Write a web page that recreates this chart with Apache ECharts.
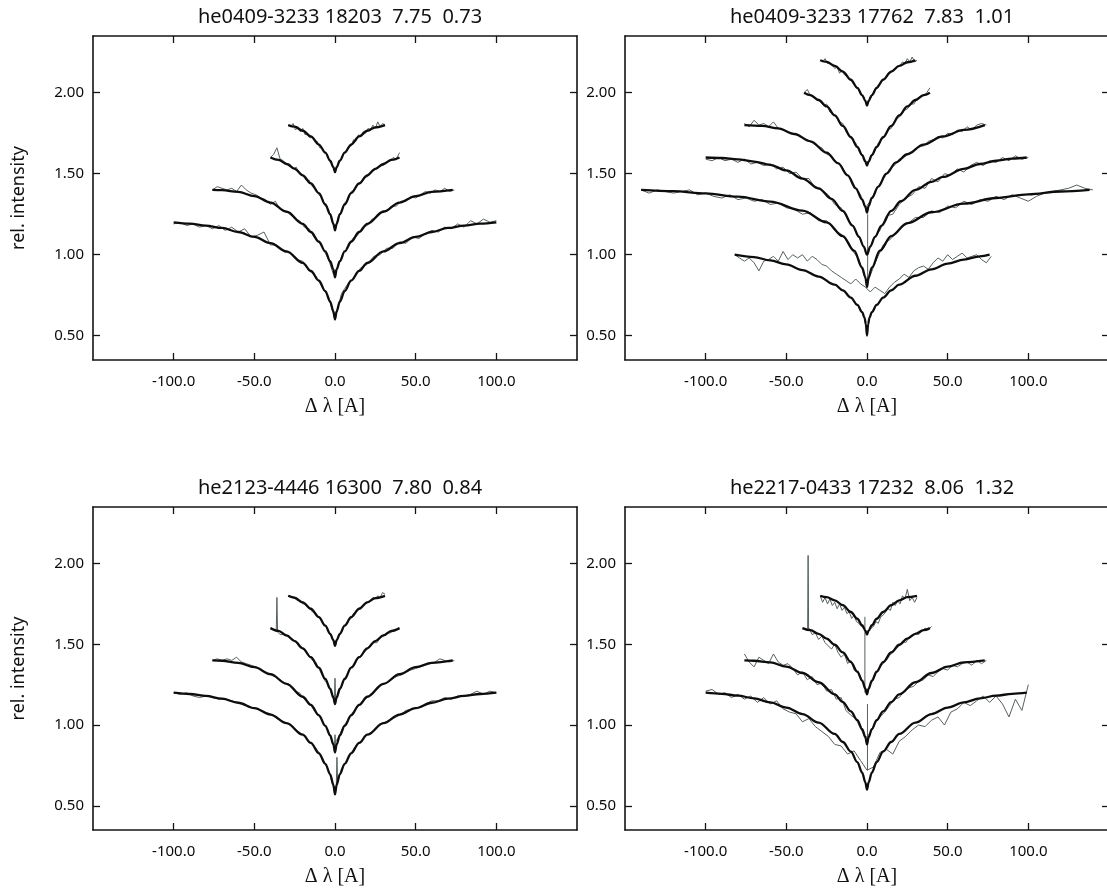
<!DOCTYPE html>
<html><head><meta charset="utf-8">
<script src="https://cdn.jsdelivr.net/npm/echarts@6/dist/echarts.min.js"></script>
<style>html,body{margin:0;padding:0;background:#fff}#c{width:1107px;height:888px}</style>
</head><body><div id="c"></div>
<script>
// ---------- tick labels / titles ----------
const xTicks = [-100, -50, 0, 50, 100];
const yTicks = [0.5, 1.0, 1.5, 2.0];
const titles = ['he0409-3233 18203  7.75  0.73', 'he0409-3233 17762  7.83  1.01',
                'he2123-4446 16300  7.80  0.84', 'he2217-0433 17232  8.06  1.32'];

// ---------- panel 1: he0409-3233 18203 ----------
const tlModelA = [[-100,1.200],[-90,1.192],[-80,1.180],[-70,1.165],[-60,1.140],[-50,1.110],[-40,1.072],[-30,1.020],[-20,0.950],[-15,0.900],[-10,0.840],[-6,0.775],[-3,0.710],[-1,0.650],[0,0.600],[1,0.650],[3,0.710],[6,0.775],[10,0.840],[15,0.900],[20,0.950],[30,1.020],[40,1.072],[50,1.110],[60,1.140],[70,1.165],[80,1.180],[90,1.192],[100,1.200]];
const tlModelB = [[-76,1.400],[-70,1.398],[-60,1.388],[-50,1.362],[-40,1.322],[-30,1.265],[-20,1.190],[-15,1.140],[-10,1.080],[-6,1.020],[-3,0.960],[-1,0.910],[0,0.860],[1,0.910],[3,0.960],[6,1.020],[10,1.080],[15,1.140],[20,1.190],[30,1.265],[40,1.322],[50,1.362],[60,1.388],[73,1.400]];
const tlModelC = [[-40,1.600],[-35,1.585],[-30,1.560],[-25,1.530],[-20,1.490],[-15,1.440],[-10,1.380],[-6,1.310],[-3,1.250],[-1,1.190],[0,1.150],[1,1.190],[3,1.250],[6,1.310],[10,1.380],[15,1.440],[20,1.490],[25,1.530],[30,1.560],[35,1.585],[40,1.600]];
const tlModelD = [[-29,1.800],[-25,1.790],[-20,1.765],[-15,1.730],[-10,1.680],[-6,1.630],[-3,1.580],[-1,1.540],[0,1.510],[1,1.540],[3,1.580],[6,1.630],[10,1.680],[15,1.730],[20,1.765],[25,1.786],[31,1.800]];
const tlObsA = [1.19,1.20,1.18,1.19,1.17,1.18,1.16,1.18,1.15,1.17,1.14,1.16,1.11,1.12,1.14,1.06,1.06,1.02,1.01,0.97,0.96,0.90,0.87,0.80,0.74,0.60,0.76,0.82,0.86,0.92,0.94,0.99,1.00,1.04,1.04,1.08,1.07,1.11,1.10,1.13,1.15,1.14,1.17,1.16,1.19,1.17,1.21,1.19,1.22,1.20,1.21];
const tlObsB = [1.40,1.42,1.41,1.40,1.41,1.39,1.43,1.40,1.38,1.37,1.35,1.34,1.31,1.33,1.28,1.27,1.26,1.22,1.21,1.17,1.16,1.11,1.08,1.03,0.97,0.88,0.93,1.01,1.04,1.10,1.12,1.17,1.18,1.22,1.23,1.27,1.27,1.30,1.30,1.33,1.33,1.36,1.35,1.37,1.39,1.38,1.40,1.39,1.41,1.39,1.40];
const tlObsC = [1.60,1.62,1.66,1.59,1.58,1.56,1.56,1.53,1.54,1.50,1.49,1.46,1.46,1.42,1.41,1.37,1.35,1.30,1.28,1.21,1.16,1.23,1.26,1.32,1.34,1.39,1.40,1.43,1.44,1.48,1.48,1.51,1.52,1.53,1.55,1.55,1.57,1.58,1.60,1.59,1.63];
const tlObsD = [1.80,1.79,1.81,1.77,1.79,1.76,1.78,1.74,1.75,1.72,1.73,1.70,1.70,1.66,1.66,1.63,1.62,1.58,1.56,1.52,1.53,1.58,1.59,1.63,1.64,1.67,1.67,1.71,1.70,1.74,1.73,1.76,1.75,1.78,1.77,1.80,1.78,1.82,1.79,1.81,1.80];

// ---------- panel 2: he0409-3233 17762 ----------
const trModel1 = [[-82,1.000],[-70,0.985],[-60,0.965],[-50,0.940],[-40,0.905],[-30,0.865],[-20,0.815],[-15,0.780],[-10,0.735],[-6,0.690],[-3,0.645],[-1.5,0.610],[-0.7,0.570],[0,0.500],[0.7,0.570],[1.5,0.610],[3,0.645],[6,0.690],[10,0.735],[15,0.780],[20,0.815],[30,0.870],[40,0.910],[50,0.945],[60,0.970],[70,0.990],[76,1.000]];
const trModel2 = [[-140,1.400],[-120,1.392],[-100,1.378],[-80,1.358],[-60,1.328],[-40,1.272],[-25,1.200],[-15,1.115],[-8,1.025],[-3,0.920],[-1,0.860],[0,0.800],[1,0.860],[3,0.920],[8,1.025],[15,1.115],[25,1.195],[40,1.262],[60,1.315],[80,1.350],[100,1.372],[120,1.390],[138,1.400]];
const trModel3 = [[-100,1.600],[-90,1.597],[-80,1.588],[-70,1.575],[-60,1.555],[-50,1.520],[-40,1.470],[-30,1.410],[-22,1.345],[-15,1.270],[-9,1.180],[-5,1.110],[-2,1.050],[0,1.000],[2,1.050],[5,1.110],[9,1.180],[15,1.270],[21,1.330],[30,1.400],[40,1.450],[47,1.480],[60,1.530],[70,1.560],[80,1.580],[90,1.593],[99,1.600]];
const trModel4 = [[-76,1.800],[-65,1.795],[-55,1.780],[-45,1.745],[-35,1.700],[-25,1.630],[-18,1.565],[-12,1.490],[-7,1.410],[-3,1.340],[-1,1.295],[0,1.260],[1,1.300],[3,1.350],[7,1.420],[12,1.500],[18,1.570],[25,1.620],[35,1.680],[47,1.730],[60,1.770],[73,1.800]];
const trModel5 = [[-39,2.000],[-35,1.985],[-30,1.955],[-25,1.915],[-20,1.860],[-15,1.795],[-10,1.725],[-6,1.665],[-3,1.615],[-1,1.575],[0,1.550],[1,1.575],[3,1.615],[6,1.665],[10,1.725],[15,1.795],[20,1.860],[25,1.915],[30,1.955],[35,1.985],[39,2.000]];
const trModel6 = [[-29,2.200],[-25,2.190],[-20,2.165],[-15,2.130],[-10,2.080],[-6,2.030],[-3,1.985],[-1,1.950],[0,1.920],[1,1.950],[3,1.985],[6,2.030],[10,2.080],[15,2.130],[20,2.165],[25,2.188],[30,2.200]];
const trObs1 = [1.00,0.98,0.96,0.98,0.95,0.90,0.96,0.97,0.99,0.96,1.02,0.97,1.00,0.98,1.00,0.96,0.99,0.97,0.94,0.93,0.90,0.88,0.86,0.84,0.82,0.85,0.82,0.80,0.77,0.80,0.78,0.76,0.80,0.83,0.85,0.88,0.86,0.90,0.92,0.93,0.91,0.95,0.98,0.96,1.00,0.97,0.99,1.01,0.98,0.99,1.00,0.97,0.95,0.99];
const trObs2 = [1.40,1.38,1.40,1.39,1.38,1.39,1.40,1.37,1.38,1.36,1.35,1.37,1.34,1.35,1.33,1.34,1.31,1.32,1.29,1.28,1.25,1.26,1.21,1.21,1.15,1.12,1.04,0.97,0.82,0.95,1.06,1.10,1.16,1.19,1.23,1.23,1.27,1.26,1.30,1.29,1.33,1.31,1.34,1.33,1.36,1.34,1.37,1.35,1.33,1.36,1.38,1.39,1.40,1.41,1.43,1.41,1.40];
const trObs3 = [1.59,1.58,1.60,1.58,1.59,1.57,1.59,1.56,1.57,1.55,1.56,1.53,1.54,1.50,1.51,1.47,1.47,1.41,1.40,1.37,1.31,1.29,1.22,1.17,1.09,1.00,1.10,1.15,1.24,1.25,1.31,1.35,1.37,1.42,1.41,1.47,1.45,1.50,1.49,1.53,1.51,1.55,1.57,1.55,1.58,1.57,1.60,1.58,1.61,1.59,1.60];
const trObs4 = [1.81,1.79,1.83,1.80,1.81,1.79,1.82,1.78,1.77,1.76,1.75,1.74,1.72,1.71,1.69,1.67,1.66,1.62,1.61,1.57,1.55,1.50,1.47,1.41,1.37,1.29,1.33,1.39,1.44,1.48,1.53,1.55,1.59,1.60,1.63,1.64,1.67,1.67,1.70,1.71,1.73,1.72,1.75,1.74,1.77,1.76,1.79,1.77,1.80,1.81,1.80];
const trObs5 = [2.00,2.02,1.98,1.97,1.96,1.95,1.92,1.93,1.88,1.87,1.85,1.82,1.81,1.76,1.74,1.71,1.69,1.64,1.62,1.58,1.57,1.62,1.64,1.69,1.71,1.73,1.77,1.78,1.82,1.84,1.86,1.89,1.90,1.93,1.93,1.96,1.97,1.98,2.00,2.03];
const trObs6 = [2.20,2.19,2.21,2.18,2.18,2.17,2.15,2.16,2.12,2.14,2.11,2.10,2.08,2.07,2.05,2.03,2.02,1.99,1.97,1.93,1.94,1.97,2.00,2.02,2.05,2.06,2.08,2.09,2.12,2.12,2.14,2.15,2.16,2.17,2.19,2.18,2.21,2.19,2.22,2.19,2.20];
const trSpike = [[0.4,1.25],[0.4,0.80]];

// ---------- panel 3: he2123-4446 16300 ----------
const blModelA = [[-100,1.200],[-90,1.192],[-80,1.180],[-70,1.163],[-60,1.138],[-50,1.105],[-40,1.065],[-30,1.012],[-20,0.940],[-15,0.890],[-10,0.825],[-6,0.760],[-3,0.695],[-1,0.630],[0,0.570],[1,0.630],[3,0.695],[6,0.760],[10,0.825],[15,0.890],[20,0.940],[30,1.012],[40,1.065],[50,1.105],[60,1.138],[70,1.163],[80,1.180],[90,1.192],[100,1.200]];
const blModelB = [[-76,1.400],[-70,1.398],[-60,1.385],[-50,1.358],[-40,1.315],[-30,1.255],[-20,1.175],[-15,1.125],[-10,1.060],[-6,0.995],[-3,0.935],[-1,0.880],[0,0.830],[1,0.880],[3,0.935],[6,0.995],[10,1.060],[15,1.125],[20,1.175],[30,1.255],[40,1.315],[50,1.358],[60,1.385],[73,1.400]];
const blModelC = [[-40,1.600],[-35,1.583],[-30,1.555],[-25,1.520],[-20,1.475],[-15,1.420],[-10,1.355],[-6,1.285],[-3,1.225],[-1,1.170],[0,1.130],[1,1.170],[3,1.225],[6,1.285],[10,1.355],[15,1.420],[20,1.475],[25,1.520],[30,1.555],[35,1.583],[40,1.600]];
const blModelD = [[-29,1.800],[-25,1.788],[-20,1.760],[-15,1.720],[-10,1.668],[-6,1.615],[-3,1.565],[-1,1.525],[0,1.490],[1,1.525],[3,1.565],[6,1.615],[10,1.668],[15,1.720],[20,1.760],[25,1.786],[31,1.800]];
const blObsA = [1.20,1.19,1.20,1.18,1.17,1.18,1.17,1.16,1.16,1.15,1.14,1.13,1.11,1.10,1.08,1.07,1.04,1.02,1.00,0.97,0.94,0.90,0.86,0.80,0.72,0.58,0.73,0.79,0.86,0.90,0.94,0.96,1.00,1.02,1.04,1.06,1.09,1.10,1.11,1.13,1.15,1.15,1.17,1.16,1.18,1.18,1.19,1.21,1.19,1.21,1.20];
const blObsB = [1.40,1.41,1.40,1.41,1.40,1.42,1.39,1.38,1.37,1.36,1.34,1.33,1.31,1.30,1.28,1.26,1.25,1.21,1.20,1.16,1.14,1.09,1.06,1.01,0.96,0.88,0.92,0.99,1.03,1.08,1.11,1.15,1.17,1.20,1.22,1.25,1.26,1.28,1.30,1.31,1.33,1.34,1.35,1.36,1.37,1.38,1.39,1.41,1.40,1.39,1.40];
const blObsC = [1.60,1.59,1.58,1.56,1.56,1.55,1.54,1.53,1.51,1.48,1.47,1.46,1.43,1.40,1.39,1.35,1.31,1.27,1.25,1.19,1.16,1.19,1.24,1.29,1.32,1.36,1.37,1.41,1.43,1.45,1.47,1.50,1.51,1.51,1.54,1.55,1.57,1.57,1.58,1.59,1.60];
const blObsD = [1.80,1.79,1.79,1.78,1.77,1.77,1.75,1.75,1.73,1.72,1.70,1.70,1.68,1.66,1.64,1.62,1.60,1.57,1.55,1.51,1.52,1.55,1.58,1.61,1.63,1.65,1.66,1.69,1.70,1.72,1.73,1.74,1.76,1.76,1.77,1.79,1.78,1.80,1.79,1.82,1.81];
const blSpike1 = [[-36.4,1.59],[-36,1.79],[-35.6,1.58]];
const blSpike2 = [[-0.4,1.14],[0,1.29],[0.4,1.15]];
const blSpike3 = [[-0.4,0.84],[0,0.94],[0.4,0.85]];
const blSpike4 = [[0.8,0.62],[1.2,0.80],[1.6,0.66]];

// ---------- panel 4: he2217-0433 17232 ----------
const brModelA = [[-100,1.200],[-90,1.193],[-80,1.182],[-70,1.165],[-60,1.140],[-50,1.108],[-40,1.068],[-30,1.015],[-20,0.945],[-15,0.895],[-10,0.835],[-6,0.770],[-3,0.705],[-1,0.645],[0,0.600],[1,0.645],[3,0.705],[6,0.770],[10,0.835],[15,0.895],[20,0.945],[30,1.015],[40,1.068],[50,1.108],[60,1.140],[70,1.165],[80,1.182],[90,1.193],[99,1.200]];
const brModelB = [[-76,1.400],[-70,1.398],[-60,1.388],[-50,1.362],[-40,1.322],[-30,1.265],[-20,1.190],[-15,1.142],[-10,1.085],[-6,1.030],[-3,0.975],[-1,0.925],[0,0.880],[1,0.925],[3,0.975],[6,1.030],[10,1.085],[15,1.142],[20,1.190],[30,1.265],[40,1.322],[50,1.362],[60,1.388],[73,1.400]];
const brModelC = [[-40,1.600],[-35,1.587],[-30,1.565],[-25,1.535],[-20,1.497],[-15,1.450],[-10,1.390],[-6,1.330],[-3,1.275],[-1,1.225],[0,1.190],[1,1.225],[3,1.275],[6,1.330],[10,1.390],[15,1.450],[20,1.497],[25,1.535],[30,1.565],[35,1.587],[39,1.600]];
const brModelD = [[-29,1.800],[-25,1.792],[-20,1.772],[-15,1.742],[-10,1.700],[-6,1.658],[-3,1.618],[-1,1.585],[0,1.560],[1,1.585],[3,1.618],[6,1.658],[10,1.700],[15,1.742],[20,1.772],[25,1.792],[31,1.800]];
const brObsA = [1.21,1.22,1.19,1.20,1.17,1.19,1.16,1.18,1.14,1.17,1.13,1.15,1.10,1.08,1.07,1.02,1.04,0.99,0.96,0.93,0.88,0.87,0.82,0.84,0.78,0.72,0.74,0.83,0.85,0.82,0.90,0.93,0.97,1.00,0.99,1.03,1.05,1.00,1.08,1.10,1.14,1.12,1.15,1.18,1.14,1.18,1.13,1.05,1.16,1.09,1.25];
const brObsB = [1.44,1.39,1.36,1.42,1.40,1.38,1.44,1.39,1.37,1.38,1.35,1.31,1.33,1.28,1.30,1.25,1.26,1.21,1.22,1.16,1.17,1.09,1.06,1.04,0.98,0.92,0.95,1.01,1.05,1.08,1.12,1.16,1.17,1.21,1.23,1.24,1.27,1.28,1.31,1.30,1.33,1.35,1.34,1.37,1.36,1.38,1.39,1.37,1.40,1.38,1.40];
const brObsC = [1.60,1.59,1.60,1.56,1.57,1.53,1.55,1.51,1.49,1.47,1.50,1.45,1.42,1.44,1.38,1.40,1.34,1.33,1.30,1.25,1.20,1.25,1.28,1.33,1.36,1.38,1.40,1.43,1.45,1.47,1.49,1.52,1.51,1.54,1.55,1.57,1.56,1.58,1.60,1.59,1.61];
const brObsD = [1.80,1.76,1.79,1.75,1.78,1.74,1.76,1.72,1.75,1.71,1.73,1.69,1.70,1.66,1.68,1.64,1.63,1.61,1.60,1.57,1.58,1.60,1.61,1.64,1.63,1.67,1.68,1.70,1.72,1.71,1.76,1.74,1.77,1.75,1.80,1.78,1.84,1.77,1.79,1.76,1.79];
const brSpike1 = [[-36.8,1.60],[-36.5,2.05],[-36.2,1.60]];
const brSpike2 = [[-1.3,1.67],[-1.3,1.20]];
const brSpike3 = [[0.3,0.72],[0.3,1.13]];

// wavelength grid of an observed spectrum: start, step
function onGrid(x0, dx, ys) { return ys.map((y, i) => [x0 + i * dx, y]); }

const panels = [
  { left: 93, top: 36, h: 324, yName: true,
    models: [tlModelA, tlModelB, tlModelC, tlModelD],
    obs: [onGrid(-100,4,tlObsA), onGrid(-76,3,tlObsB), onGrid(-40,2,tlObsC), onGrid(-29,1.5,tlObsD)] },
  { left: 625, top: 36, h: 324, yName: false,
    models: [trModel1, trModel2, trModel3, trModel4, trModel5, trModel6],
    obs: [onGrid(-82,3,trObs1), onGrid(-140,5,trObs2), onGrid(-100,4,trObs3), onGrid(-76,3,trObs4), onGrid(-39,2,trObs5), onGrid(-29,1.5,trObs6), trSpike] },
  { left: 93, top: 507, h: 323, yName: true,
    models: [blModelA, blModelB, blModelC, blModelD],
    obs: [onGrid(-100,4,blObsA), onGrid(-76,3,blObsB), onGrid(-40,2,blObsC), onGrid(-29,1.5,blObsD), blSpike1, blSpike2, blSpike3, blSpike4] },
  { left: 625, top: 507, h: 323, yName: false,
    models: [brModelA, brModelB, brModelC, brModelD],
    obs: [onGrid(-100,4,brObsA), onGrid(-76,3,brObsB), onGrid(-40,2,brObsC), onGrid(-29,1.5,brObsD), brSpike1, brSpike2, brSpike3] }
];

const PW = 484;
const SANS = '"Noto Sans", "Open Sans", sans-serif';
const frame = { show: true, onZero: false, lineStyle: { color: '#141414', width: 1.6 } };
const tick = (vals) => ({ show: true, inside: true, length: 7, customValues: vals, lineStyle: { color: '#141414', width: 1.3 } });

const grid = [], xAxis = [], yAxis = [], series = [], title = [];
panels.forEach((p, i) => {
  grid.push({ left: p.left, top: p.top, width: PW, height: p.h, containLabel: false, outerBoundsMode: 'none' });
  title.push({ text: titles[i], left: p.left + PW / 2, top: p.top - 34, textAlign: 'center',
    textStyle: { fontFamily: SANS, fontSize: 20, fontWeight: 'normal', color: '#111' } });
  xAxis.push({ type: 'value', gridIndex: i, min: -150, max: 150, position: 'bottom',
    axisLine: frame, axisTick: tick(xTicks), splitLine: { show: false },
    axisLabel: { customValues: xTicks, formatter: v => v.toFixed(1), margin: 14,
      fontFamily: SANS, fontSize: 15, color: '#0a0a0a' },
    name: 'Δ λ [A]', nameLocation: 'middle', nameGap: 37,
    nameTextStyle: { fontFamily: '"Liberation Serif", "DejaVu Serif", serif', fontSize: 20, color: '#111' } });
  xAxis.push({ type: 'value', gridIndex: i, min: -150, max: 150, position: 'top',
    axisLine: frame, axisTick: tick(xTicks), axisLabel: { show: false }, splitLine: { show: false } });
  yAxis.push({ type: 'value', gridIndex: i, min: 0.35, max: 2.35, position: 'left',
    axisLine: frame, axisTick: tick(yTicks), splitLine: { show: false },
    axisLabel: { customValues: yTicks, formatter: v => v.toFixed(2), margin: 9,
      fontFamily: SANS, fontSize: 15, color: '#0a0a0a' },
    name: p.yName ? 'rel. intensity' : '', nameLocation: 'middle', nameGap: 65, nameRotate: 90,
    nameTextStyle: { fontFamily: SANS, fontSize: 18, color: '#111' } });
  yAxis.push({ type: 'value', gridIndex: i, min: 0.35, max: 2.35, position: 'right',
    axisLine: frame, axisTick: tick(yTicks), axisLabel: { show: false }, splitLine: { show: false } });
  p.obs.forEach(d => series.push({ type: 'line', xAxisIndex: 2 * i, yAxisIndex: 2 * i, data: d,
    symbol: 'none', silent: true, lineStyle: { color: '#566060', width: 1 }, z: 2 }));
  p.models.forEach(d => series.push({ type: 'line', xAxisIndex: 2 * i, yAxisIndex: 2 * i, data: d,
    symbol: 'none', silent: true, smooth: 0.35, smoothMonotone: 'x',
    lineStyle: { color: '#0d0d0d', width: 2.3 }, z: 3 }));
});

const chart = echarts.init(document.getElementById('c'), null, { renderer: 'canvas' });
chart.setOption({ animation: false, backgroundColor: '#ffffff', title, grid, xAxis, yAxis, series });
</script></body></html>
